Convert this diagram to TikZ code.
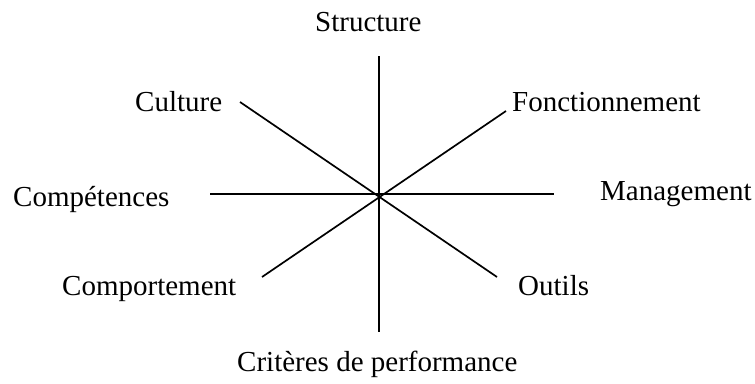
\documentclass[tikz,border=0pt]{standalone}
\usepackage{fontspec}
\setmainfont{Liberation Serif}
\begin{document}
\begin{tikzpicture}[x=1pt,y=-1pt,
  lbl/.style={inner sep=0pt,anchor=base west,font=\fontsize{29}{34}\selectfont},
  spoke/.style={line width=1.7pt}]
\useasboundingbox (0,0) rectangle (755,383);
% labels
\node[lbl] (st) at (315,31) {Structure};
\node[lbl] (cu) at (135,111) {Culture};
\node[lbl] (fo) at (512,111.5) {Fonctionnement};
\node[lbl] (cp) at (13,206.5) {Compétences};
\node[lbl] (ma) at (600,200) {Management};
\node[lbl] (cm) at (62,295) {Comportement};
\node[lbl] (ou) at (518,295) {Outils};
\node[lbl] (cr) at (237,371.5) {Critères de performance};
% spoke ends
\coordinate (c) at (379,196);
\coordinate (eN) at (379,56);
\coordinate (eS) at (379,332);
\coordinate (eW) at (210,194);
\coordinate (eE) at (554,194);
\coordinate (eNW) at (240,102);
\coordinate (eNE) at (506,111);
\coordinate (eSW) at (262,277);
\coordinate (eSE) at (497,277);
\draw[spoke] (eN) -- (eS);
\draw[spoke] (eW) -- (eE);
\draw[spoke] (eNW) -- (eSE);
\draw[spoke] (eNE) -- (eSW);
\end{tikzpicture}
\end{document}
